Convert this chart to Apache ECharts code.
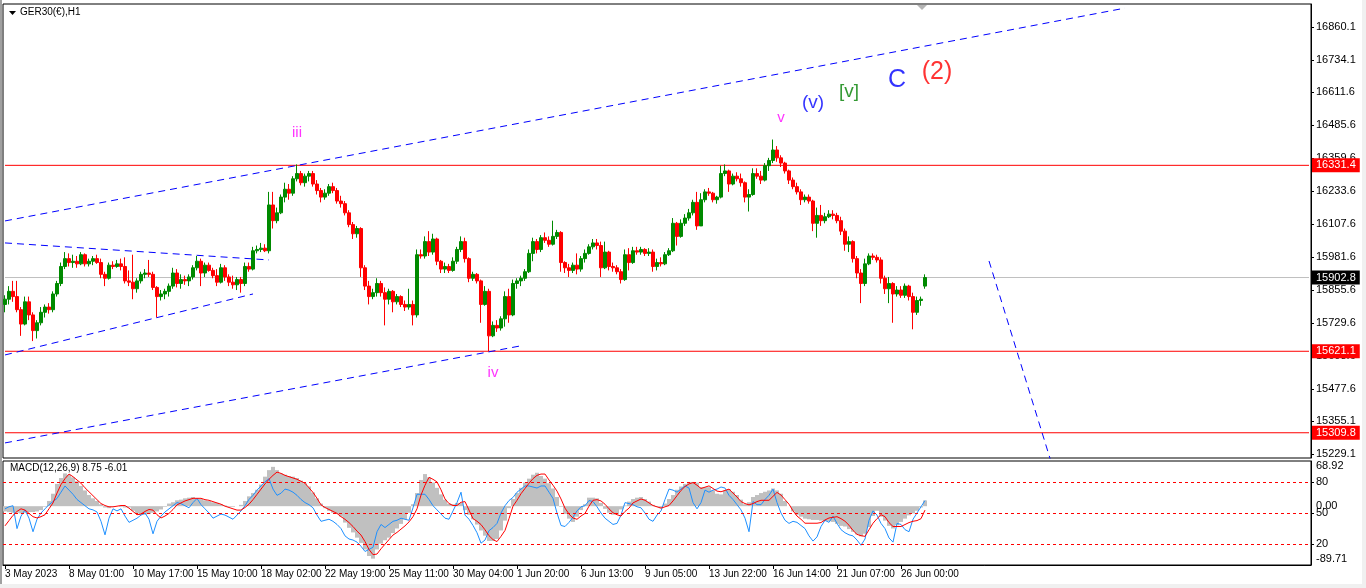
<!DOCTYPE html>
<html>
<head>
<meta charset="utf-8">
<title>GER30(€),H1</title>
<script src="https://cdn.jsdelivr.net/npm/echarts@6/dist/echarts.min.js"></script>
<style>
html, body { margin: 0; padding: 0; background: #fff; }
#main { width: 1366px; height: 588px; }
</style>
</head>
<body>
<div id="main"></div>
<script>
// 4-hour blocks, 3 May - 26 Jun 2023
var opens = [
  15800,15820,15850,15830,15780,15725,15810,15760,15700,15730,15770,15790,15780,15840,15880,15945,
  15975,15960,15965,15955,15990,15955,15965,15975,15960,15915,15900,15950,15945,15955,15945,15890,
  15885,15860,15890,15915,15920,15915,15865,15830,15840,15850,15870,15920,15880,15895,15890,15905,
  15940,15965,15920,15950,15930,15910,15885,15940,15905,15885,15875,15895,15880,15945,15935,16005,
  16010,16015,16005,16180,16120,16150,16210,16240,16225,16280,16300,16265,16290,16300,16260,16235,
  16210,16225,16250,16235,16195,16185,16150,16105,16070,16090,15940,15870,15830,15845,15880,15845,
  15820,15850,15810,15830,15800,15790,15800,15760,15990,15985,16040,16000,16050,15965,15935,15945,
  15930,15965,16010,16040,15975,15900,15915,15890,15800,15850,15680,15720,15710,15745,15830,15760,
  15880,15890,15900,15925,15995,16040,16010,16055,16045,16030,16060,16075,15960,15940,15930,15950,
  15935,15975,15995,16020,16035,16025,15940,16000,15945,15940,15925,15895,15990,15960,16005,16000,
  16010,15995,16000,15945,15960,15955,15990,16005,16110,16060,16110,16130,16150,16190,16100,16200,
  16230,16225,16200,16210,16300,16310,16260,16290,16280,16265,16210,16220,16300,16290,16275,16330,
  16350,16390,16360,16340,16310,16275,16250,16230,16200,16210,16195,16110,16140,16120,16135,16145,
  16140,16120,16080,16030,16040,15975,15920,15880,15955,15985,15980,15970,15900,15860,15880,15840,
  15855,15835,15870,15830,15770,15815,15870
];
var highs = [
  15835,15870,15890,15890,15790,15830,15830,15770,15740,15790,15800,15805,15850,15890,15960,16000,
  15995,15990,15985,16000,15995,15975,15985,15990,15975,15925,15960,15965,15970,15975,15980,15930,
  15990,15900,15925,15935,15970,15925,15870,15855,15860,15880,15940,15935,15915,15910,15915,15950,
  15985,15975,15960,15960,15940,15935,15955,15950,15915,15910,15905,15905,15960,15960,16020,16025,
  16035,16030,16230,16230,16170,16220,16265,16260,16290,16335,16310,16300,16310,16310,16275,16245,
  16240,16260,16265,16245,16215,16195,16160,16115,16100,16095,15950,15890,15860,15900,15890,15865,
  15860,15855,15840,15835,15815,15860,15815,16010,16010,16060,16080,16070,16055,15970,15960,15955,
  15980,16020,16060,16055,15980,15925,15920,15895,15870,15860,15735,15740,15755,15850,15860,15895,
  15900,15910,15935,16010,16055,16050,16065,16075,16060,16120,16085,16080,15965,15955,15960,15995,
  15985,16010,16030,16050,16050,16040,16040,16005,15960,15950,15935,16010,16015,16020,16020,16020,
  16015,16015,16010,15975,15980,16000,16015,16130,16115,16125,16145,16165,16200,16230,16225,16240,
  16245,16230,16215,16330,16335,16315,16300,16305,16300,16270,16240,16320,16320,16310,16340,16360,
  16430,16405,16370,16345,16315,16285,16265,16240,16220,16220,16200,16170,16180,16150,16160,16160,
  16150,16135,16090,16060,16045,15985,15935,15975,15995,15995,15990,15980,15910,15905,15885,15870,
  15870,15880,15875,15845,15830,15830,15915
];
var lows = [
  15770,15800,15810,15770,15680,15720,15740,15660,15670,15720,15750,15765,15770,15830,15870,15935,
  15945,15940,15940,15950,15945,15945,15950,15955,15900,15870,15895,15935,15940,15930,15880,15870,
  15820,15845,15880,15900,15905,15855,15750,15815,15820,15830,15860,15865,15860,15875,15870,15895,
  15930,15870,15905,15925,15900,15870,15880,15890,15870,15860,15855,15845,15870,15925,15930,15995,
  16000,16000,15995,16090,16110,16145,16190,16200,16215,16270,16255,16250,16270,16250,16220,16190,
  16200,16215,16225,16185,16170,16140,16095,16050,16055,15905,15855,15800,15820,15830,15830,15720,
  15800,15770,15800,15790,15775,15780,15720,15750,15975,15975,15985,15990,15950,15920,15920,15920,
  15925,15955,16000,15960,15885,15890,15880,15730,15795,15621,15675,15695,15700,15715,15730,15755,
  15860,15870,15890,15920,15965,15995,16000,16035,16020,16025,16050,15925,15920,15905,15920,15915,
  15925,15960,15990,16010,16010,15905,15935,15930,15925,15915,15880,15890,15930,15955,15990,15990,
  15985,15985,15925,15930,15945,15950,15985,16000,16025,16055,16100,16120,16140,16085,16100,16190,
  16215,16190,16185,16205,16290,16230,16255,16270,16250,16190,16155,16215,16280,16260,16270,16310,
  16340,16345,16325,16300,16260,16240,16220,16180,16190,16185,16080,16055,16100,16110,16130,16125,
  16110,16065,16005,16000,15960,15900,15805,15870,15950,15970,15960,15880,15840,15805,15730,15830,
  15825,15825,15815,15705,15760,15795,15860
];
var closes = [
  15820,15850,15830,15780,15725,15810,15760,15700,15730,15770,15790,15780,15840,15880,15945,15975,
  15960,15965,15955,15990,15955,15965,15975,15960,15915,15900,15950,15945,15955,15945,15890,15885,
  15860,15890,15915,15920,15915,15865,15830,15840,15850,15870,15920,15880,15895,15890,15905,15940,
  15965,15920,15950,15930,15910,15885,15940,15905,15885,15875,15895,15880,15945,15935,16005,16010,
  16015,16005,16180,16120,16150,16210,16240,16225,16280,16300,16265,16290,16300,16260,16235,16210,
  16225,16250,16235,16195,16185,16150,16105,16070,16090,15940,15870,15830,15845,15880,15845,15820,
  15850,15810,15830,15800,15790,15800,15760,15990,15985,16040,16000,16050,15965,15935,15945,15930,
  15965,16010,16040,15975,15900,15915,15890,15800,15850,15680,15720,15710,15745,15830,15760,15880,
  15890,15900,15925,15995,16040,16010,16055,16045,16030,16060,16075,15960,15940,15930,15950,15935,
  15975,15995,16020,16035,16025,15940,16000,15945,15940,15925,15895,15990,15960,16005,16000,16010,
  15995,16000,15945,15960,15955,15990,16005,16110,16060,16110,16130,16150,16190,16100,16200,16230,
  16225,16200,16210,16300,16310,16260,16290,16280,16265,16210,16220,16300,16290,16275,16330,16350,
  16390,16360,16340,16310,16275,16250,16230,16200,16210,16195,16110,16140,16120,16135,16145,16140,
  16120,16080,16030,16040,15975,15920,15880,15955,15985,15980,15970,15900,15860,15880,15840,15855,
  15835,15870,15830,15770,15815,15820,15902.8
];

// lower window
var macdMain = [
  -8,-9,-10,-10,-11,-10,-9,-9,-8,-6,-1,8,19,34,43,50,
  48,44,38,31,24,17,12,8,3,-2,-3,-1,0,-1,-2,-2,
  -7,-11,-13,-13,-12,-10,-8,-5,-1,4,6,9,10,12,13,14,
  12,11,9,8,6,5,3,1,-1,-1,0,2,8,15,20,25,
  33,45,55,60,55,50,48,46,45,43,39,35,30,21,12,4,
  -3,-7,-10,-12,-16,-25,-33,-40,-48,-56,-66,-76,-80,-66,-57,-52,
  -48,-41,-34,-27,-20,-10,3,20,40,49,44,36,28,18,10,4,
  3,5,5,-6,-13,-20,-28,-37,-45,-53,-53,-50,-37,-22,-3,11,
  20,28,36,42,48,51,46,42,35,27,14,-1,-12,-19,-24,-16,
  -6,3,13,13,12,5,-4,-10,-13,-12,-5,1,7,11,13,14,
  11,7,2,-1,-3,4,11,17,25,30,34,37,37,36,29,29,
  29,24,19,18,24,26,22,17,10,3,6,14,17,20,22,24,
  27,24,19,8,0,-8,-13,-16,-19,-20,-21,-21,-22,-23,-23,-24,
  -27,-30,-31,-35,-39,-43,-46,-42,-32,-15,-7,-16,-22,-30,-34,-29,
  -24,-19,-14,-11,-7,-2,8.75
];
var macdSignal = [
  -30,-22,-14,-8,-4,-6,-11,-16,-18,-16,-13,-4,5,20,33,42,
  49,45,40,35,28,22,16,10,4,1,-1,-1,0,1,1,-3,
  -8,-13,-12,-8,-5,-6,-13,-18,-15,-11,-5,2,5,8,10,12,
  12,12,10,9,7,5,3,0,-2,-4,-6,-6,-2,3,10,18,
  26,34,41,47,52,50,47,45,43,41,38,35,28,21,12,2,
  -2,-5,-8,-11,-16,-20,-25,-31,-38,-44,-54,-66,-74,-73,-65,-58,
  -51,-44,-40,-35,-30,-24,-16,-4,17,32,44,41,37,25,11,4,
  1,1,6,7,-6,-19,-23,-28,-36,-45,-51,-54,-46,-37,-19,0,
  9,19,27,35,42,47,49,49,40,32,23,11,-3,-12,-18,-20,
  -15,-11,0,9,10,8,3,-4,-10,-13,-15,-8,-3,5,8,11,
  9,5,1,-1,-3,-1,1,8,16,24,30,34,36,32,27,29,
  31,27,23,22,24,26,20,14,7,4,2,4,7,9,9,9,
  15,21,17,10,3,-7,-15,-20,-26,-26,-26,-26,-25,-21,-18,-17,
  -16,-19,-23,-29,-37,-43,-45,-46,-36,-26,-19,-13,-16,-25,-31,-31,
  -31,-28,-25,-23,-22,-19,-6.01
];
var blueLine = [
  54,56,57,35,47,53,45,32,44,50,54,58,61,64,70,76,
  72,68,63,60,57,54,53,51,42,29,45,54,52,54,47,41,
  43,45,48,50,44,30,42,47,51,54,57,60,59,57,55,60,
  64,58,54,50,45,47,49,48,46,44,48,52,57,63,67,72,
  76,80,83,73,67,69,73,72,70,67,63,60,58,55,48,42,
  43,44,42,39,35,28,25,24,22,18,13,15,17,32,39,36,
  39,42,43,45,44,43,55,68,68,68,63,57,53,49,45,44,
  52,60,70,48,44,38,31,21,24,33,36,40,50,57,62,65,
  70,73,76,76,75,74,76,76,70,64,50,38,37,41,46,52,
  56,57,62,61,56,50,45,42,39,40,48,60,59,58,56,55,
  50,44,42,48,52,63,73,72,70,73,76,74,60,54,60,72,
  70,72,73,75,74,67,63,58,53,45,32,61,58,58,63,67,
  73,60,50,43,40,42,41,38,35,28,23,27,37,43,41,47,
  40,34,31,29,28,24,19,25,43,52,48,40,35,26,22,40,
  39,34,32,44,50,56,62
];

var xTickLabels = ['3 May 2023', '8 May 01:00', '10 May 17:00', '15 May 10:00', '18 May 02:00',
  '22 May 19:00', '25 May 11:00', '30 May 04:00', '1 Jun 20:00', '6 Jun 13:00', '9 Jun 05:00',
  '13 Jun 22:00', '16 Jun 14:00', '21 Jun 07:00', '26 Jun 00:00'];
var priceTicks = [16860.1, 16734.1, 16611.6, 16485.6, 16359.6, 16233.6, 16107.6, 15981.6,
  15855.6, 15729.6, 15603.6, 15477.6, 15355.1, 15229.1];
var priceLevels = [16331.4, 15621.1, 15309.8];
var lastPrice = 15902.8;
var macdRange = [68.92, -89.71];
var levelTicks = [80, 50, 20];

// trend lines: [startBar, startPrice, endBar, endPrice]
var trendLines = [
  [0, 16119, 280, 16932],
  [0, 15271, 129, 15642],
  [0, 16035, 66, 15970],
  [0, 15607, 62, 15840],
  [246, 15966, 262, 15175]
];
var waveNames = ['iii', 'iv', 'v', '(v)', '[v]', 'C', '(2)'];
var waveBar = [73, 122, 194, 202, 211, 223, 233];
var wavePrice = [16455, 15538, 16512, 16570, 16612, 16657, 16688];

var waveColors = ['#ff00ff', '#ff00ff', '#ff00ff', '#0000ff', '#008000', '#0000ff', '#ff0000'];
var waveSizes = [15, 15, 15, 19, 19, 25, 25];

var slotCount = 327;
var barsPerLabel = 16;
var font = 'Liberation Sans';

var cats = [];
for (var k = 0; k < slotCount; k++) cats.push(String(k));

var candles = opens.map(function (o, i) { return [o, closes[i], lows[i], highs[i]]; });

function isTimeTick(idx) {
  return idx % barsPerLabel === 0 && idx / barsPerLabel < xTickLabels.length;
}

var series = [{
  name: 'GER30',
  type: 'candlestick',
  xAxisIndex: 0,
  yAxisIndex: 0,
  data: candles,
  barWidth: 3,
  itemStyle: {
    color: '#008a00', color0: '#ff0000',
    borderColor: '#008a00', borderColor0: '#ff0000',
    borderWidth: 1
  },
  z: 2
}];

// horizontal price levels, each a flat line across the window with its price box at the right
function levelSeries(v, lineColor, boxColor) {
  return {
    type: 'line',
    xAxisIndex: 0,
    yAxisIndex: 0,
    data: [[0, v], [slotCount - 1, v]],
    symbol: 'none',
    silent: true,
    clip: false,
    lineStyle: { color: lineColor, width: 1, type: 'solid' },
    endLabel: {
      show: true, distance: 3,
      formatter: function () { return v.toFixed(1); },
      color: '#fff', backgroundColor: boxColor,
      fontFamily: font, fontSize: 11, padding: [2, 4, 1, 4]
    },
    z: 1
  };
}
priceLevels.forEach(function (v) { series.push(levelSeries(v, '#ff0000', '#ff0000')); });
series.push(levelSeries(lastPrice, '#c0c0c0', '#000000'));

trendLines.forEach(function (t) {
  series.push({
    type: 'line',
    xAxisIndex: 0,
    yAxisIndex: 0,
    data: [[t[0], t[1]], [t[2], t[3]]],
    symbol: 'none',
    silent: true,
    lineStyle: { color: '#0000ff', width: 1, type: [7, 5] },
    z: 3
  });
});

series.push({
  type: 'scatter',
  xAxisIndex: 0,
  yAxisIndex: 0,
  symbol: 'circle',
  symbolSize: 1,
  itemStyle: { color: 'rgba(0,0,0,0)' },
  silent: true,
  data: waveNames.map(function (n, i) {
    return {
      name: n,
      value: [waveBar[i], wavePrice[i]],
      label: { color: waveColors[i], fontSize: waveSizes[i] }
    };
  }),
  label: {
    show: true, position: 'inside', fontFamily: font,
    formatter: function (p) { return p.name; }
  },
  z: 5
});

series.push({
  type: 'bar',
  xAxisIndex: 1,
  yAxisIndex: 1,
  data: macdMain,
  barWidth: '100%',
  barCategoryGap: '0%',
  itemStyle: { color: '#c0c0c0' },
  silent: true
});
series.push({
  type: 'line',
  xAxisIndex: 1,
  yAxisIndex: 2,
  data: blueLine,
  symbol: 'none',
  silent: true,
  lineStyle: { color: '#1e90ff', width: 1 },
  markLine: {
    silent: true,
    symbol: 'none',
    label: { show: false },
    lineStyle: { color: '#ff0000', type: [3, 3], width: 1 },
    data: levelTicks.map(function (v) { return { yAxis: v }; })
  },
  z: 3
});
series.push({
  type: 'line',
  xAxisIndex: 1,
  yAxisIndex: 1,
  data: macdSignal,
  symbol: 'none',
  silent: true,
  lineStyle: { color: '#ff0000', width: 1 },
  z: 4
});

var axisText = { color: '#000', fontFamily: font, fontSize: 11 };
var titleText = { color: '#000', fontFamily: font, fontSize: 10, fontWeight: 'normal' };

var option = {
  animation: false,
  backgroundColor: '#fff',
  title: [
    { text: 'GER30(€),H1', left: 20, top: 7, padding: 0, textStyle: titleText },
    { text: 'MACD(12,26,9) 8.75 -6.01', left: 10, top: 463, padding: 0, textStyle: titleText }
  ],
  grid: [
    { left: 3, right: 55, top: 4, height: 454, show: true, borderColor: '#000', borderWidth: 1 },
    { left: 3, right: 55, top: 461, height: 104, show: true, borderColor: '#000', borderWidth: 1 }
  ],
  xAxis: [
    {
      type: 'category', gridIndex: 0, data: cats, boundaryGap: true,
      axisLine: { show: false, onZero: false }, axisTick: { show: false }, axisLabel: { show: false }, splitLine: { show: false }
    },
    {
      type: 'category', gridIndex: 1, data: cats, boundaryGap: true,
      axisLine: { show: true, onZero: false, lineStyle: { color: '#000' } },
      axisTick: { show: true, interval: isTimeTick, alignWithLabel: true, length: 4, lineStyle: { color: '#000' } },
      axisLabel: {
        interval: isTimeTick, align: 'left', margin: 4,
        color: '#000', fontFamily: font, fontSize: 10,
        formatter: function (v, idx) { return xTickLabels[idx / barsPerLabel] || ''; }
      },
      splitLine: { show: false }
    }
  ],
  yAxis: [
    {
      type: 'value', gridIndex: 0, position: 'right',
      min: 15213.4, max: 16947.7,
      axisLine: { show: true, lineStyle: { color: '#000' } },
      axisTick: { show: true, length: 3, customValues: priceTicks, lineStyle: { color: '#000' } },
      axisLabel: Object.assign({
        customValues: priceTicks, margin: 5,
        formatter: function (v) { return v.toFixed(1); }
      }, axisText),
      splitLine: { show: false },
      z: 0
    },
    {
      type: 'value', gridIndex: 1, position: 'right',
      min: macdRange[1], max: macdRange[0],
      axisLine: { show: true, lineStyle: { color: '#000' } },
      axisTick: { show: false },
      axisLabel: Object.assign({
        customValues: [macdRange[0] - 8, 0, macdRange[1] + 9.4], margin: 5,
        formatter: function (v) {
          if (v > 30) return macdRange[0].toFixed(2);
          if (v < -30) return macdRange[1].toFixed(2);
          return '0.00';
        }
      }, axisText),
      splitLine: { show: false }
    },
    {
      type: 'value', gridIndex: 1, position: 'right',
      min: 0, max: 100,
      axisLine: { show: false },
      axisTick: { show: true, length: 3, customValues: levelTicks, lineStyle: { color: '#000' } },
      axisLabel: Object.assign({ customValues: levelTicks, margin: 5 }, axisText),
      splitLine: { show: false }
    }
  ],
  graphic: [
    { type: 'rect', shape: { x: 0, y: 0, width: 2, height: 588 }, style: { fill: '#a0a0a0' }, silent: true },
    { type: 'rect', shape: { x: 0, y: 584, width: 1366, height: 4 }, style: { fill: '#f0f0f0' }, silent: true },
    { type: 'rect', shape: { x: 1362, y: 0, width: 4, height: 588 }, style: { fill: '#f0f0f0' }, silent: true },
    { type: 'polygon', shape: { points: [[9, 11], [16, 11], [12.5, 15]] }, style: { fill: '#000' }, silent: true },
    { type: 'polygon', shape: { points: [[917, 5], [927, 5], [922, 10]] }, style: { fill: '#b4b4b4' }, silent: true }
  ],
  series: series
};

var myChart = echarts.init(document.getElementById('main'));
myChart.setOption(option);
</script>
</body>
</html>
